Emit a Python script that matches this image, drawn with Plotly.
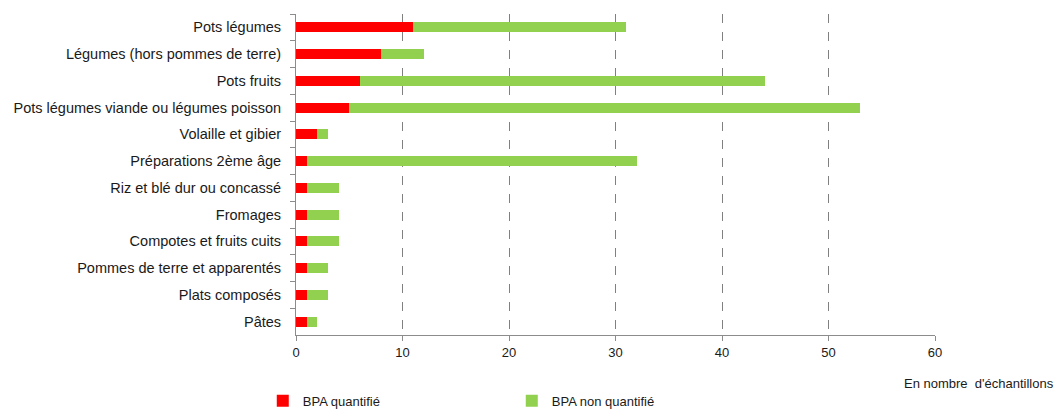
import plotly.graph_objects as go

categories = [
    "Pots légumes",
    "Légumes (hors pommes de terre)",
    "Pots fruits",
    "Pots légumes viande ou légumes poisson",
    "Volaille et gibier",
    "Préparations 2ème âge",
    "Riz et blé dur ou concassé",
    "Fromages",
    "Compotes et fruits cuits",
    "Pommes de terre et apparentés",
    "Plats composés",
    "Pâtes",
]
bpa_quantifie = [11, 8, 6, 5, 2, 1, 1, 1, 1, 1, 1, 1]
bpa_non_quantifie = [20, 4, 38, 48, 1, 31, 3, 3, 3, 2, 2, 1]
x_ticks = [0, 10, 20, 30, 40, 50, 60]

FONT = "Liberation Sans, Arial, sans-serif"
TXT = "#1a1a1a"

fig = go.Figure()
fig.add_trace(go.Bar(
    y=categories, x=bpa_quantifie, orientation="h",
    name="BPA quantifié", marker=dict(color="#FF0000", line=dict(width=0)),
))
fig.add_trace(go.Bar(
    y=categories, x=bpa_non_quantifie, orientation="h",
    name="BPA non quantifié", marker=dict(color="#92D050", line=dict(width=0)),
))

fig.update_layout(
    width=1057, height=410,
    barmode="stack", bargap=0.62,
    paper_bgcolor="white", plot_bgcolor="white",
    margin=dict(l=296, r=122, t=14, b=75, autoexpand=False),
    font=dict(family=FONT, size=14, color=TXT),
    showlegend=True,
    legend=dict(
        orientation="h", x=-0.052, xanchor="left", y=-0.205, yanchor="middle",
        font=dict(family=FONT, size=13, color=TXT),
        entrywidth=204, entrywidthmode="pixels",
        itemwidth=30, traceorder="normal", bgcolor="rgba(0,0,0,0)",
    ),
    annotations=[dict(
        text="En nombre  d'échantillons", xref="paper", yref="paper",
        x=1.19, y=-0.15, xanchor="right", yanchor="middle", showarrow=False,
        font=dict(family=FONT, size=13, color=TXT),
    )],
)
fig.update_xaxes(
    range=[0, 60], tickvals=x_ticks, ticktext=[str(v) for v in x_ticks],
    showgrid=True, gridcolor="#808080", griddash="dash", gridwidth=1,
    showline=True, linecolor="#8c8c8c", linewidth=1,
    ticks="outside", ticklen=5, tickcolor="#8c8c8c",
    tickfont=dict(family=FONT, size=13, color=TXT),
    zeroline=False, automargin=False,
)
fig.update_yaxes(
    type="category", categoryorder="array", categoryarray=categories,
    autorange="reversed",
    showline=True, linecolor="#8c8c8c", linewidth=1,
    ticks="outside", ticklen=5, tickcolor="#8c8c8c", tickson="boundaries",
    showgrid=False, automargin=False,
    tickfont=dict(family=FONT, size=14.5, color=TXT),
    ticklabelstandoff=11,
)

fig.write_html(
    "out.html",
    config={"displayModeBar": False},
    post_script="document.body.style.margin='0';document.body.style.padding='0';",
)
